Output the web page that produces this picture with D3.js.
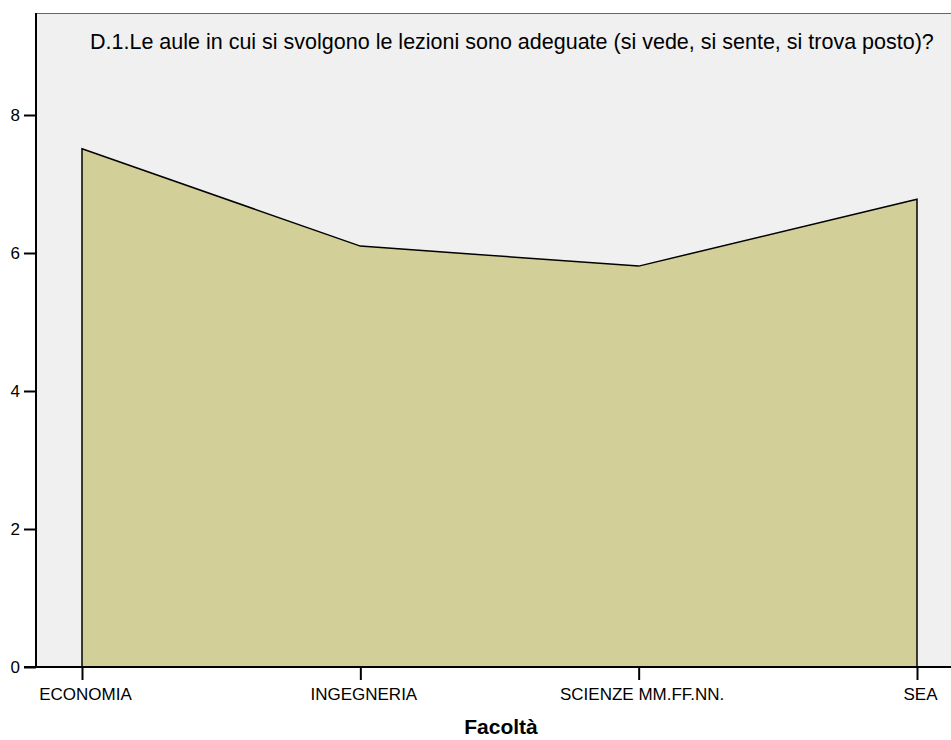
<!DOCTYPE html>
<html>
<head>
<meta charset="utf-8">
<script src="https://cdn.jsdelivr.net/npm/d3@7"></script>
<style>
body { margin: 0; background: #fff; }
svg { display: block; font-family: "Liberation Sans", Arial, sans-serif; }
</style>
</head>
<body>
<script>
const facolta = ["ECONOMIA", "INGEGNERIA", "SCIENZE MM.FF.NN.", "SEA"];
const valori = [7.51, 6.1, 5.81, 6.78];
const yTicks = [0, 2, 4, 6, 8];
const titolo = "D.1.Le aule in cui si svolgono le lezioni sono adeguate (si vede, si sente, si trova posto)?";
const xTitolo = "Facoltà";

const w = 951;
const h = 740;
const pLeft = 36, pTop = 13, pRight = 951, pBottom = 667;

const svg = d3.select("body").append("svg")
	.attr("width", w)
	.attr("height", h);

// sfondo area grafico
svg.append("rect")
	.attr("x", pLeft).attr("y", pTop)
	.attr("width", pRight - pLeft).attr("height", pBottom - pTop)
	.attr("fill", "#f0f0f0");

svg.append("line")
	.attr("x1", pLeft).attr("x2", pRight)
	.attr("y1", pTop + 0.5).attr("y2", pTop + 0.5)
	.attr("stroke", "#666").attr("stroke-width", 1);

const xScale = d3.scalePoint()
	.domain(facolta)
	.range([82, 917]);

const yScale = d3.scaleLinear()
	.domain([0, 8])
	.range([pBottom, pBottom - 8 * 69]);

const data = facolta.map((f, i) => ({f: f, v: valori[i]}));

const area = d3.area()
	.x(d => xScale(d.f))
	.y0(yScale(0))
	.y1(d => yScale(d.v));

svg.append("path")
	.datum(data)
	.attr("d", area)
	.attr("fill", "#d3cf98")
	.attr("stroke", "#000")
	.attr("stroke-width", 1.5)
	.attr("stroke-linejoin", "miter");

const xAxis = d3.axisBottom(xScale).tickSize(13).tickPadding(8).tickSizeOuter(0);
const yAxis = d3.axisLeft(yScale).tickValues(yTicks).tickSize(12).tickPadding(4).tickSizeOuter(0);

const gx = svg.append("g")
	.attr("transform", "translate(0," + pBottom + ")")
	.call(xAxis);
gx.select(".domain").remove();
gx.append("line")
	.attr("x1", pLeft - 12).attr("x2", pRight)
	.attr("stroke", "#000").attr("stroke-width", 2);
gx.selectAll(".tick line").attr("stroke", "#000").attr("stroke-width", 2);
gx.selectAll(".tick text")
	.attr("fill", "#000")
	.attr("dx", "3px")
	.style("font-size", "17px")
	.style("font-family", "Liberation Sans, Arial, sans-serif");

const gy = svg.append("g")
	.attr("transform", "translate(" + pLeft + ",0)")
	.call(yAxis);
gy.select(".domain").remove();
gy.append("line")
	.attr("y1", pTop).attr("y2", pBottom)
	.attr("stroke", "#000").attr("stroke-width", 2);
gy.selectAll(".tick line").attr("stroke", "#000").attr("stroke-width", 2);
gy.selectAll(".tick text")
	.attr("fill", "#000")
	.style("font-size", "17px")
	.style("font-family", "Liberation Sans, Arial, sans-serif");

svg.append("text")
	.attr("x", 90).attr("y", 49)
	.style("font-size", "21.5px")
	.attr("fill", "#000")
	.text(titolo);

svg.append("text")
	.attr("x", 501).attr("y", 734)
	.attr("text-anchor", "middle")
	.style("font-size", "21px")
	.style("font-weight", "bold")
	.attr("fill", "#000")
	.text(xTitolo);
</script>
</body>
</html>
